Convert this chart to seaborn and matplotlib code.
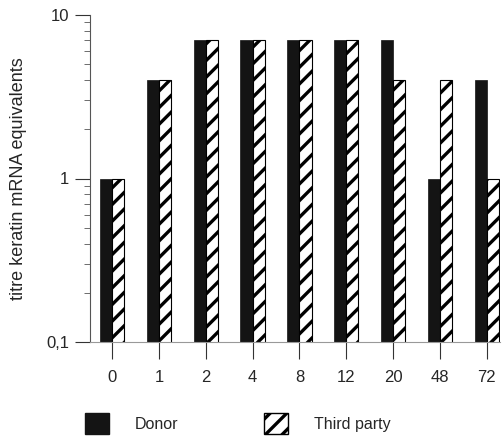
import matplotlib
matplotlib.use("Agg")
import matplotlib.pyplot as plt
import seaborn as sns
import pandas as pd
import numpy as np
from matplotlib.patches import Patch
from matplotlib.ticker import FixedLocator, FixedFormatter, LogLocator, NullFormatter

categories = ["0", "1", "2", "4", "8", "12", "20", "48", "72"]
donor = [1, 4, 7, 7, 7, 7, 7, 1, 4]
third_party = [1, 4, 7, 7, 7, 7, 4, 4, 1]
series = ["Donor", "Third party"]
ytick_vals = [0.1, 1, 10]
ytick_labels = ["0,1", "1", "10"]

df = pd.DataFrame({
    "time": categories * 2,
    "value": donor + third_party,
    "group": [series[0]] * len(categories) + [series[1]] * len(categories),
})

sns.set_style("white")
plt.rcParams["font.family"] = ["Liberation Sans", "DejaVu Sans"]
plt.rcParams["hatch.linewidth"] = 2.4

fig = plt.figure(figsize=(5.04, 4.38), dpi=100)
ax = fig.add_axes([90 / 504, 1 - 342 / 438, (500 - 90) / 504, (342 - 15) / 438])
ax.set_yscale("log")

sns.barplot(data=df, x="time", y="value", hue="group", order=categories,
            hue_order=series, width=0.52, gap=0, ax=ax, legend=False,
            palette=["#1a1a1a", "white"], saturation=1)

n = len(categories)
for i, bar in enumerate(ax.patches[:2 * n]):
    if i < n:
        bar.set_facecolor("#141414")
        bar.set_edgecolor("#141414")
        bar.set_linewidth(0.5)
    else:
        bar.set_facecolor("white")
        bar.set_edgecolor("black")
        bar.set_hatch("//")
        bar.set_linewidth(0.8)

ax.set_ylim(0.1, 10)
ax.set_xlim(-0.47, 8.28)
ax.yaxis.set_major_locator(FixedLocator(ytick_vals))
ax.yaxis.set_major_formatter(FixedFormatter(ytick_labels))
ax.yaxis.set_minor_locator(LogLocator(base=10, subs=np.arange(2, 10)))
ax.yaxis.set_minor_formatter(NullFormatter())

for s in ["top", "right"]:
    ax.spines[s].set_visible(False)
ax.spines["left"].set_color("#555555")
ax.spines["left"].set_linewidth(0.8)
ax.spines["bottom"].set_color("#999999")
ax.spines["bottom"].set_linewidth(0.8)

ax.tick_params(axis="y", which="major", direction="out", length=11, width=0.8,
               color="#333333", labelsize=12, left=True, pad=4)
ax.tick_params(axis="y", which="minor", direction="out", length=4, width=0.6,
               color="#555555", left=True)
ax.tick_params(axis="x", which="major", direction="out", length=12, width=0.8,
               color="#333333", labelsize=12, bottom=True, pad=8)
ax.set_xlabel("")
ax.set_ylabel("titre keratin mRNA equivalents", fontsize=13, labelpad=14)

handles = [Patch(facecolor="#141414", edgecolor="#141414"),
           Patch(facecolor="white", edgecolor="black", hatch="//")]
fig.legend(handles, series, loc="lower left", bbox_to_anchor=(85 / 504, 4 / 438),
           ncol=2, frameon=False, fontsize=11.5, handlelength=1.5, handleheight=1.65,
           columnspacing=5.4, handletextpad=1.6, borderpad=0, borderaxespad=0)

fig.savefig("out.png", dpi=100)
